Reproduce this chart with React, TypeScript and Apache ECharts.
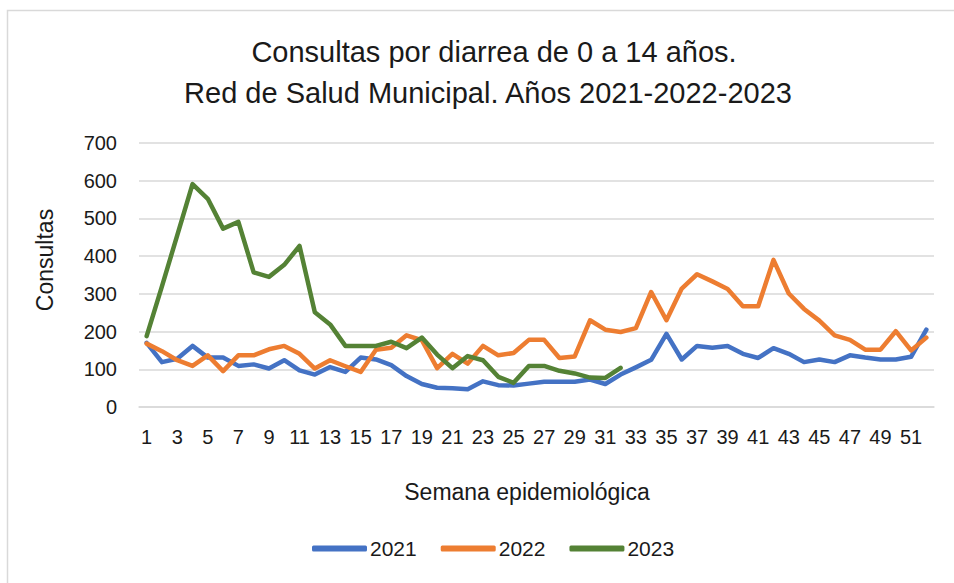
import React, { useEffect, useRef } from "react";
import * as echarts from "echarts";

const weeks: string[] = Array.from({ length: 52 }, (_, i) => String(i + 1));

const values2021: number[] = [
  170, 119, 128, 162, 131, 131, 109, 113, 102, 124, 97, 86, 106, 93, 131, 126,
  111, 82, 61, 51, 50, 47, 68, 58, 57, 62, 67, 67, 67, 73, 61, 86, 105, 125,
  194, 126, 162, 157, 162, 141, 130, 156, 141, 119, 126, 119, 137, 131, 126,
  126, 133, 205,
];

const values2022: number[] = [
  168, 148, 124, 109, 137, 95, 137, 137, 153, 162, 141, 102, 124, 108, 93, 152,
  157, 190, 177, 103, 141, 115, 162, 137, 143, 178, 178, 130, 134, 230, 205,
  199, 209, 305, 230, 314, 352, 333, 313, 267, 267, 390, 301, 260, 229, 190,
  178, 152, 152, 201, 150, 184,
];

const values2023: number[] = [
  188, 320, 455, 591, 552, 473, 491, 357, 345, 377, 427, 251, 219, 162, 162,
  162, 173, 156, 184, 139, 103, 135, 124, 80, 64, 109, 109, 96, 89, 78, 77, 104,
];

const seriesNames: string[] = ["2021", "2022", "2023"];
const titleLines: string[] = [
  "Consultas por diarrea de 0 a 14 años.",
  "Red de Salud Municipal. Años 2021-2022-2023",
];
const yAxisName = "Consultas";
const xAxisName = "Semana epidemiológica";

const FONT = "'Liberation Sans', Arial, sans-serif";
const TXT = "#1a1a1a";

export default function App() {
  const ref = useRef<HTMLDivElement>(null);

  useEffect(() => {
    if (!ref.current) return;
    const chart = echarts.init(ref.current, undefined, { renderer: "svg" });
    const colors = ["#4472C4", "#ED7D31", "#548235"];
    const data = [values2021, values2022, values2023];
    chart.setOption({
      animation: false,
      backgroundColor: "#ffffff",
      textStyle: { fontFamily: FONT },
      grid: { left: 139, right: 20, top: 143, bottom: 176, containLabel: false },
      graphic: [
        {
          type: "rect",
          shape: { x: 7.5, y: 10.5, width: 1000, height: 1000 },
          style: { fill: "none", stroke: "#d9d9d9", lineWidth: 1.5 },
          silent: true,
          z: -10,
        },
        {
          type: "text",
          x: 494,
          y: 52,
          style: {
            text: titleLines[0],
            fontSize: 29,
            fontFamily: FONT,
            fill: TXT,
            textAlign: "center",
            textVerticalAlign: "middle",
          },
        },
        {
          type: "text",
          x: 488,
          y: 93,
          style: {
            text: titleLines[1],
            fontSize: 29,
            fontFamily: FONT,
            fill: TXT,
            textAlign: "center",
            textVerticalAlign: "middle",
          },
        },
        {
          type: "text",
          x: 45,
          y: 260,
          rotation: Math.PI / 2,
          style: {
            text: yAxisName,
            fontSize: 23,
            fontFamily: FONT,
            fill: TXT,
            textAlign: "center",
            textVerticalAlign: "middle",
          },
        },
        {
          type: "text",
          x: 527,
          y: 492,
          style: {
            text: xAxisName,
            fontSize: 23,
            fontFamily: FONT,
            fill: TXT,
            textAlign: "center",
            textVerticalAlign: "middle",
          },
        },
      ],
      legend: {
        data: seriesNames,
        left: 307,
        top: 533,
        icon: "roundRect",
        itemWidth: 55,
        itemHeight: 6,
        itemGap: 24,
        textStyle: { fontSize: 21, color: TXT, fontFamily: FONT, padding: [0, 0, 0, -2] },
      },
      xAxis: {
        type: "category",
        data: weeks,
        boundaryGap: true,
        axisTick: { show: false },
        axisLine: { lineStyle: { color: "#d9d9d9", width: 1.5 } },
        axisLabel: { interval: 1, fontSize: 20, color: TXT, margin: 20, fontFamily: FONT },
        splitLine: { show: false },
      },
      yAxis: {
        type: "value",
        min: 0,
        max: 700,
        interval: 100,
        axisLine: { show: false },
        axisTick: { show: false },
        axisLabel: { fontSize: 20, color: TXT, margin: 22, fontFamily: FONT },
        splitLine: { lineStyle: { color: "#d9d9d9", width: 1.5 } },
      },
      series: seriesNames.map((name, i) => ({
        name,
        type: "line",
        data: data[i],
        showSymbol: false,
        symbol: "none",
        color: colors[i],
        lineStyle: { color: colors[i], width: 4.5, cap: "round", join: "round" },
        itemStyle: { color: colors[i] },
      })),
    });
    return () => chart.dispose();
  }, []);

  return (
    <div
      ref={ref}
      style={{ position: "fixed", left: 0, top: 0, width: 954, height: 583, background: "#fff" }}
    />
  );
}
